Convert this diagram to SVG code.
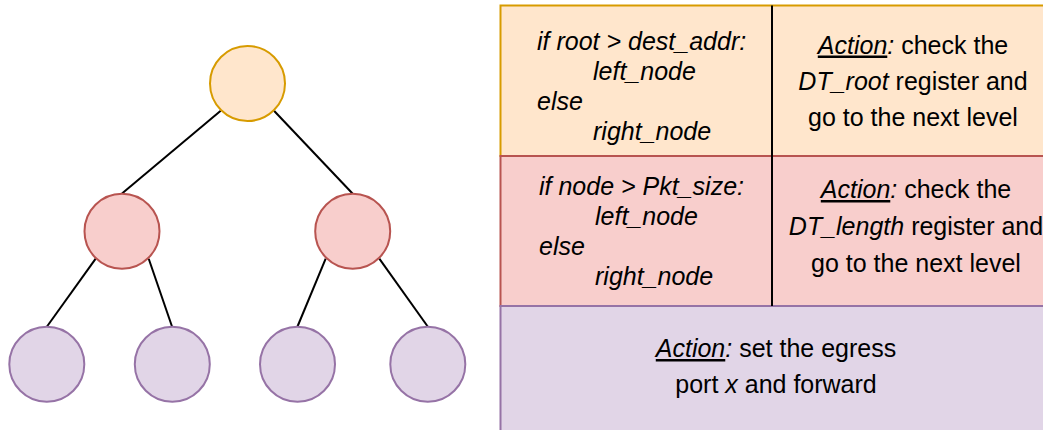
<svg xmlns="http://www.w3.org/2000/svg" width="1043" height="430" viewBox="0 0 1043 430">
  <style>
    .orange { fill: #ffe6cc; stroke: #d79b00; stroke-width: 2; }
    .red { fill: #f8cecc; stroke: #b85450; stroke-width: 2; }
    .purple { fill: #e1d5e7; stroke: #9673a6; stroke-width: 2; }
    .edge { stroke: #000; stroke-width: 2; fill: none; }
    .divider { stroke: #000; stroke-width: 2; }
    text { font-family: "Liberation Sans", Arial, Helvetica, sans-serif; font-size: 25px; fill: #000; }
    .it { font-style: italic; }
    .ul { font-style: italic; text-decoration: underline; }
    .mid { text-anchor: middle; }
  </style>
  <rect width="1043" height="430" fill="#fff"/>

  <!-- tree connectors -->
  <g id="connectors">
    <line class="edge" x1="220.7" y1="110.7" x2="122" y2="193.5"/>
    <line class="edge" x1="274" y1="110.7" x2="352.5" y2="193.5"/>
    <line class="edge" x1="95.7" y1="258.7" x2="47" y2="326.5"/>
    <line class="edge" x1="148.7" y1="258.7" x2="172" y2="326.5"/>
    <line class="edge" x1="325.7" y1="258.7" x2="297.5" y2="326.5"/>
    <line class="edge" x1="379.3" y1="258.7" x2="427.7" y2="326.5"/>
  </g>

  <!-- tree nodes -->
  <g id="root"><circle class="orange" cx="247.5" cy="83.5" r="37.5"/></g>
  <g id="level2-left"><circle class="red" cx="122" cy="231.3" r="37.5"/></g>
  <g id="level2-right"><circle class="red" cx="352.7" cy="231.3" r="37.5"/></g>
  <g id="leaf-1"><circle class="purple" cx="46.8" cy="364.3" r="37.5"/></g>
  <g id="leaf-2"><circle class="purple" cx="172.3" cy="364.3" r="37.5"/></g>
  <g id="leaf-3"><circle class="purple" cx="297.5" cy="364.3" r="37.5"/></g>
  <g id="leaf-4"><circle class="purple" cx="427.8" cy="364.3" r="37.5"/></g>

  <!-- table: root level -->
  <g id="row-root">
    <rect class="orange" x="500.5" y="5.5" width="552" height="150.5"/>
    <text class="it" x="537" y="50">if root &gt; dest_addr:</text>
    <text class="it" x="593" y="80">left_node</text>
    <text class="it" x="537" y="110">else</text>
    <text class="it" x="593" y="140">right_node</text>
    <text class="mid" x="913" y="53.5"><tspan class="ul">Action</tspan><tspan class="it">:</tspan> check the</text>
    <text class="mid" x="913" y="89.5"><tspan class="it">DT_root</tspan> register and</text>
    <text class="mid" x="913" y="125.5">go to the next level</text>
  </g>

  <!-- table: inner level -->
  <g id="row-inner">
    <rect class="red" x="500.5" y="156" width="552" height="150"/>
    <text class="it" x="539" y="194.5">if node &gt; Pkt_size:</text>
    <text class="it" x="595" y="224.5">left_node</text>
    <text class="it" x="539" y="254.5">else</text>
    <text class="it" x="595" y="285">right_node</text>
    <text class="mid" x="916" y="198"><tspan class="ul">Action</tspan><tspan class="it">:</tspan> check the</text>
    <text class="mid" x="916" y="234.5"><tspan class="it">DT_length</tspan> register and</text>
    <text class="mid" x="916" y="271.5">go to the next level</text>
  </g>

  <!-- table: leaf level -->
  <g id="row-leaf">
    <rect class="purple" x="500.5" y="306" width="552" height="150"/>
    <text class="mid" x="776" y="357"><tspan class="ul">Action</tspan><tspan class="it">:</tspan> set the egress</text>
    <text class="mid" x="776" y="393">port <tspan class="it">x</tspan> and forward</text>
  </g>

  <!-- column divider -->
  <line class="divider" x1="772" y1="5.5" x2="772" y2="306"/>
</svg>
